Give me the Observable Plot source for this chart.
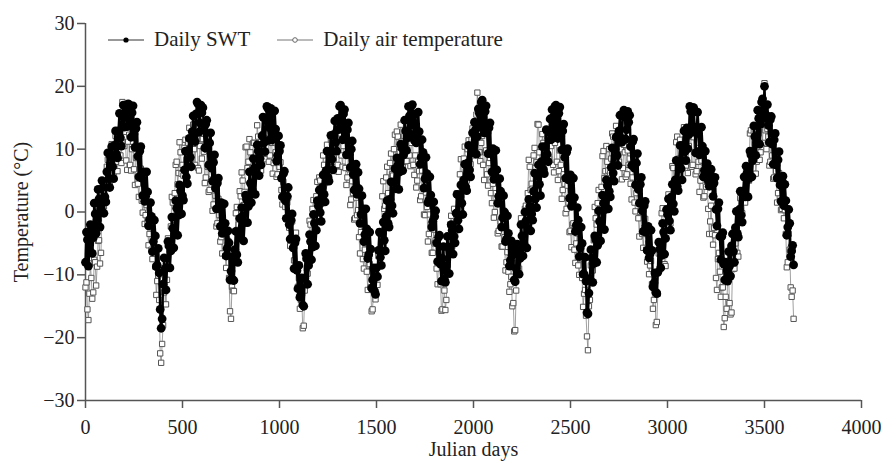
<!DOCTYPE html>
<html>
<head>
<meta charset="utf-8">
<script src="https://cdn.jsdelivr.net/npm/d3@7"></script>
<script src="https://cdn.jsdelivr.net/npm/@observablehq/plot@0.6"></script>
<style>
  html, body { margin: 0; padding: 0; background: #fff; }
  #wrap { position: relative; width: 885px; height: 466px; font-family: "Liberation Serif", "DejaVu Serif", serif; }
  #legend { position: absolute; left: 108px; top: 27px; display: flex; align-items: center; font-size: 21px; color: #222; white-space: nowrap; }
  #legend .item { display: flex; align-items: center; margin-right: 27px; }
  #legend svg { margin-right: 10px; }
</style>
</head>
<body>
<div id="wrap">
  <div id="chart"></div>
  <div id="legend">
    <div class="item"><svg width="36" height="10"><line x1="0" y1="5" x2="36" y2="5" stroke="#333" stroke-width="1"/><circle cx="18" cy="5" r="2.6" fill="#000"/></svg><span>Daily SWT</span></div>
    <div class="item"><svg width="36" height="10"><line x1="0" y1="5" x2="36" y2="5" stroke="#777" stroke-width="1"/><circle cx="18" cy="5" r="2.3" fill="#fff" stroke="#666" stroke-width="1"/></svg><span>Daily air temperature</span></div>
  </div>
</div>
<script>
// Sampling grid (Julian days): main readings every 10 days (day 0, 10, ...),
// extra readings in between (day 5, 15, ...)
const dayStart = 0, dayEnd = 3650, dayStep = 10, midOffset = 5;

// Daily SWT (°C) at day 0, 10, 20, ... (rows of 100 days)
const swt = [
  -8.0,-4.4,-6.0,-2.9,-4.1,-0.3,-1.3,2.1,0.5,3.9,
  2.4,6.4,5.3,8.8,7.2,10.6,9.2,12.9,11.8,15.2,
  13.5,16.8,17.2,14.1,15.8,12.4,13.3,8.9,9.7,5.4,
  6.4,2.5,3.2,-1.2,-0.7,-4.7,-3.8,-8.5,-9.7,-18.5,
  -11.5,-9.0,-8.9,-5.4,-6.2,-2.6,-3.5,0.6,-0.5,3.4,
  2.6,6.7,5.6,9.8,8.7,12.8,11.7,15.6,17.2,14.2,
  15.8,13.1,14.0,10.2,11.0,7.0,7.9,3.8,4.6,0.6,
  1.5,-2.6,-1.8,-5.8,-4.9,-9.4,-10.8,-6.0,-6.8,-3.2,
  -4.1,-0.6,-1.7,2.0,0.9,4.6,3.5,7.0,6.0,9.7,
  8.5,12.1,11.0,14.6,16.5,13.4,15.6,12.4,13.2,9.0,
  9.7,5.4,6.1,1.8,2.5,-2.0,-1.3,-5.7,-4.9,-9.3,
  -8.5,-13.2,-14.8,-10.6,-7.4,-8.5,-4.7,-5.6,-1.8,-2.9,
  1.0,-0.1,3.9,2.8,6.6,5.5,9.5,8.4,12.3,11.1,
  14.9,16.8,13.7,15.6,12.2,13.1,9.2,10.0,6.0,6.9,
  2.8,3.7,-0.4,0.5,-3.6,-2.7,-6.8,-5.9,-10.8,-12.6,
  -8.9,-6.1,-7.2,-3.4,-4.5,-0.7,-1.8,2.0,1.0,4.7,
  3.7,7.5,6.4,10.2,9.1,12.9,11.8,15.3,16.9,13.8,
  15.6,12.0,12.8,8.7,9.5,5.3,6.1,1.9,2.7,-1.5,
  -0.7,-4.9,-4.0,-8.3,-7.4,-10.7,-8.6,-5.6,-6.6,-2.9,
  -3.9,-0.2,-1.3,2.4,1.4,5.1,4.0,7.8,6.7,10.4,
  9.4,13.1,12.0,15.7,17.5,14.3,16.0,12.6,13.4,9.3,
  10.1,5.9,6.7,2.5,3.3,-0.9,0.0,-4.3,-3.4,-7.7,
  -6.9,-10.8,-9.0,-6.1,-7.4,-3.8,-5.0,-1.4,-2.6,0.9,
  -0.3,3.3,2.1,5.7,4.4,8.0,6.8,10.4,9.2,12.7,
  11.5,15.1,16.8,13.8,15.7,12.1,12.9,8.7,9.5,5.1,
  5.9,1.5,2.3,-2.1,-1.3,-5.7,-5.0,-9.9,-11.0,-16.2,
  -10.6,-7.3,-8.2,-4.4,-5.3,-1.5,-2.5,1.4,0.4,4.2,
  3.3,7.1,6.2,10.0,9.0,12.9,11.8,15.3,16.0,13.1,
  14.3,10.4,11.2,7.0,7.8,3.6,4.4,0.2,1.0,-3.2,
  -2.3,-6.7,-6.1,-11.3,-12.8,-9.6,-5.9,-6.9,-3.2,-4.2,
  -0.4,-1.4,2.4,1.3,5.1,4.1,7.9,6.9,10.6,9.6,
  13.4,12.3,16.0,16.6,13.5,12.5,13.3,9.8,10.5,6.6,
  7.4,5.0,6.2,4.3,4.6,0.4,0.5,-3.9,-3.9,-8.3,
  -8.0,-11.0,-8.6,-5.4,-6.3,-2.5,-3.4,0.4,-0.5,3.3,
  2.4,6.2,5.3,9.1,8.2,12.0,11.1,14.9,14.0,18.0,
  20.0,15.4,13.8,14.7,10.8,11.5,7.5,8.3,4.3,5.0,
  1.0,1.8,-2.4,-1.8,-6.2,-8.4
];

// Daily SWT (°C) at day 5, 15, 25, ...
const swtMid = [
  -3.2,-8.6,-2.0,-6.6,1.4,-3.4,3.6,-2.4,5.0,-0.2,
  1.6,9.4,3.9,10.4,5.3,12.9,8.6,15.7,10.5,17.0,
  17.0,13.6,17.1,11.9,16.9,10.3,14.3,5.6,10.4,2.6,
  1.7,6.4,-2.2,1.5,-6.3,-1.3,-8.7,-5.8,-15.5,-17.0,
  -7.3,-12.4,-4.7,-8.9,-0.8,-5.7,1.8,-3.7,4.3,-0.3,
  1.9,9.7,4.5,11.7,7.2,15.3,11.2,17.5,12.7,17.0,
  16.6,10.2,14.6,7.5,12.6,4.9,9.1,0.5,5.4,-2.3,
  -3.4,1.3,-7.0,-3.0,-10.8,-7.1,-10.9,-3.1,-8.0,-1.0,
  0.7,-4.6,2.7,-1.7,6.4,1.5,8.5,2.8,10.7,5.8,
  7.5,15.1,9.6,16.8,11.4,16.5,11.5,16.1,8.1,12.1,
  10.6,2.4,6.5,-1.0,3.9,-4.3,-0.3,-9.0,-4.3,-12.2,
  -13.6,-10.5,-15.0,-6.6,-11.5,-3.6,-7.6,-0.4,-5.4,1.8,
  3.5,-1.5,5.9,1.6,9.7,4.9,12.2,6.7,14.5,9.7,
  13.1,17.0,11.5,16.3,9.1,14.2,7.1,11.3,3.5,7.6,
  6.3,-1.8,2.6,-4.7,0.5,-7.4,-3.2,-12.1,-8.9,-13.1,
  -10.3,-3.2,-8.5,-1.6,-6.2,1.8,-2.4,4.8,-0.2,6.9,
  8.6,3.6,10.8,6.6,14.6,9.8,16.8,12.4,17.1,11.4,
  11.0,15.9,7.6,11.5,3.8,8.7,1.5,5.6,-2.4,1.6,
  0.2,-7.9,-3.7,-11.0,-5.5,-11.2,-3.9,-9.8,-2.0,-6.7,
  -4.9,2.8,-2.7,4.3,-0.4,7.6,3.4,10.6,5.6,12.6,
  14.3,9.2,16.4,13.5,17.8,12.6,16.9,9.3,14.2,6.4,
  5.2,9.8,1.4,5.3,-2.4,2.6,-4.7,-0.6,-8.6,-4.6,
  -5.9,-11.1,-5.1,-9.9,-2.0,-7.0,0.0,-5.7,2.0,-3.0,
  -1.3,6.2,0.7,7.5,2.6,10.4,6.1,13.1,8.0,14.8,
  16.3,12.6,17.0,11.7,16.7,9.9,14.0,5.4,10.1,2.2,
  0.9,5.4,-3.1,0.7,-7.1,-2.4,-9.9,-7.2,-16.0,-12.9,
  -6.0,-11.2,-3.8,-8.0,0.2,-4.6,2.7,-2.8,5.1,0.5,
  2.4,10.2,4.9,11.9,7.4,15.4,11.1,16.2,11.6,16.0,
  15.4,7.4,11.6,4.3,9.3,1.4,5.5,-3.1,1.7,-6.1,
  -7.3,-2.9,-11.9,-9.7,-13.0,-4.8,-8.9,-1.8,-6.7,0.4,
  2.1,-2.9,4.4,0.1,8.2,3.4,10.6,5.1,12.9,8.2,
  10.1,16.8,13.1,16.6,9.4,15.9,9.1,13.5,5.6,9.7,
  7.7,4.1,6.8,2.5,5.5,-2.2,1.5,-7.6,-3.3,-10.8,
  -10.8,-6.3,-10.2,-3.5,-8.0,0.1,-4.0,3.3,-1.6,5.6,
  7.3,2.4,9.7,5.6,13.7,9.0,16.2,10.8,17.5,15.7,
  14.9,17.1,11.1,15.2,7.6,12.5,5.4,9.6,1.7,5.7,
  4.4,-3.7,0.4,-7.1,-5.3
];

// Daily air temperature (°C) at day 0, 10, 20, ...
const air = [
  -12.0,-15.5,-13.0,-10.5,-12.8,-8.0,-8.7,-4.5,-6.5,4.0,
  2.5,7.2,5.0,8.6,6.2,10.4,8.0,11.5,9.0,17.5,
  10.5,8.2,11.2,7.5,10.0,6.8,8.6,4.5,5.6,1.8,
  2.9,-0.5,-1.8,-3.5,-6.0,-5.0,-8.7,-11.0,-14.0,-24.0,
  -18.0,-12.5,-10.8,-4.5,-2.3,1.5,3.0,8.0,6.2,9.5,
  7.5,10.2,8.3,11.0,9.0,12.0,10.0,11.5,7.0,10.5,
  8.5,9.6,5.5,7.2,3.5,6.0,1.2,2.6,-1.8,-0.5,
  -4.0,-3.0,-7.0,-5.5,-10.5,-17.0,-12.5,-6.0,0.8,-2.0,
  2.5,5.0,3.2,10.4,8.0,9.5,7.0,11.0,9.2,12.0,
  8.5,10.8,9.5,12.5,16.8,9.0,11.0,7.8,9.5,6.0,
  7.2,3.5,4.8,0.8,1.5,-2.5,-1.5,-5.5,-4.5,-8.5,
  -10.5,-14.0,-18.5,-12.5,-9.0,-6.5,-2.0,0.5,-1.5,2.5,
  1.0,5.0,3.5,7.5,6.0,9.8,8.0,11.0,8.5,10.2,
  7.5,11.5,9.0,10.5,7.0,5.5,6.8,2.0,3.0,-1.0,
  -0.5,-4.0,-3.2,-7.5,-6.0,-9.5,-8.5,-12.0,-15.5,-13.0,
  -10.0,-7.0,-3.5,2.5,0.5,5.5,3.0,7.8,6.0,10.0,
  8.5,12.0,9.5,11.2,8.0,10.5,12.5,9.0,11.0,7.5,
  9.0,5.0,6.5,2.5,3.8,-0.5,0.8,-3.5,-2.0,-6.5,
  -5.0,-9.0,-8.0,-11.5,-15.5,-12.5,-14.0,-6.0,-2.0,-5.5,
  0.5,-1.5,3.0,6.0,4.0,8.5,6.5,10.0,8.0,11.5,
  9.0,10.5,19.0,9.5,11.0,7.5,9.5,6.0,7.8,3.0,
  4.5,0.0,1.5,-3.0,-1.5,-5.5,-4.0,-8.0,-9.5,-11.5,
  -15.0,-19.0,-12.5,-8.0,-5.5,-2.0,-4.0,1.0,3.0,7.2,
  4.5,9.0,7.0,14.0,9.5,8.0,11.0,9.0,12.0,8.5,
  10.5,7.5,11.0,8.0,6.5,7.5,3.5,4.5,0.5,1.5,
  -3.0,-2.0,-6.0,-5.0,-8.5,-7.5,-10.5,-13.0,-16.5,-22.0,
  -14.0,-8.0,-4.5,-1.0,1.4,0.0,4.0,9.7,6.5,8.0,
  10.0,8.5,12.0,9.5,11.0,8.0,10.0,7.0,9.5,6.0,
  7.5,4.5,5.5,1.5,3.0,-1.0,0.0,-3.5,-2.5,-6.0,
  -5.0,-8.5,-11.5,-14.0,-18.0,-13.0,-6.0,-0.2,-3.5,-8.6,
  -1.5,2.0,0.5,7.0,4.5,12.0,8.5,10.5,9.0,11.5,
  8.0,10.5,12.0,7.5,9.5,6.5,8.0,5.0,6.5,2.5,
  4.0,0.5,-1.5,-3.5,-2.5,-10.5,-7.5,-9.5,-12.0,-18.3,
  -13.5,-11.0,-14.5,-16.0,-9.0,-5.0,-6.5,-1.0,0.5,3.5,
  1.5,6.0,5.0,13.0,9.0,11.0,8.0,12.5,9.5,11.0,
  20.5,10.0,12.0,8.0,9.0,5.5,6.5,3.0,4.5,0.5,
  -1.0,-3.5,-8.0,-6.0,-13.5,-17.0
];

// Daily air temperature (°C) at day 5, 15, 25, ...
const airMid = [
  -11.2,-17.2,-8.2,-13.8,-7.6,-11.7,-4.6,-8.2,2.0,0.9,
  1.8,8.3,4.2,10.8,6.3,12.1,6.5,12.7,7.8,13.5,
  11.9,6.7,12.3,6.6,11.2,4.3,8.6,2.4,6.9,-0.1,
  -1.9,1.1,-5.3,-1.4,-7.5,-4.0,-13.2,-10.1,-22.5,-21.0,
  -12.8,-14.7,-4.2,-5.6,2.4,-1.2,7.5,4.4,11.1,6.1,
  5.8,11.5,7.1,13.4,8.5,13.9,7.5,11.6,6.6,12.5,
  11.6,4.6,9.9,3.2,7.6,0.2,3.9,-2.3,2.1,-4.7,
  -6.6,-2.8,-8.9,-4.6,-15.8,-11.9,-12.6,-0.2,-2.8,3.3,
  6.3,1.1,10.3,7.0,11.6,4.9,11.0,7.4,13.8,7.9,
  6.6,12.4,8.4,14.4,8.0,12.9,6.1,11.1,5.6,9.6,
  7.9,1.2,6.3,-1.1,2.3,-5.4,-1.5,-7.7,-3.3,-11.9,
  -15.4,-14.1,-18.1,-7.4,-9.8,-1.4,-4.1,1.9,-1.7,4.8,
  5.5,1.3,9.0,4.6,10.7,5.5,11.5,7.1,12.6,6.5,
  6.4,12.5,7.2,12.2,4.3,9.1,1.1,4.9,-1.2,2.3,
  0.3,-6.6,-1.9,-9.0,-5.0,-12.4,-8.3,-15.8,-11.1,-13.9,
  -11.6,-3.1,-3.1,4.9,1.0,7.2,2.1,9.3,5.8,12.3,
  12.8,7.8,13.9,7.4,12.1,8.1,12.8,7.3,12.5,5.9,
  3.9,8.0,1.9,6.6,-0.4,3.1,-4.7,-0.4,-6.5,-2.8,
  -4.5,-11.5,-6.3,-15.7,-11.2,-15.6,-8.0,-6.7,-0.6,-4.9,
  -3.6,3.0,1.9,8.4,4.3,10.4,5.0,11.4,7.6,13.3,
  12.3,15.5,12.5,8.1,12.1,5.1,9.8,4.2,8.6,1.4,
  -0.9,3.0,-3.4,1.2,-5.5,-1.9,-9.3,-6.4,-12.7,-10.3,
  -14.5,-18.8,-6.8,-9.0,-1.0,-6.4,0.5,-0.7,8.3,3.5,
  3.7,10.2,7.9,13.9,6.8,12.4,6.7,12.9,8.1,12.5,
  11.5,6.3,13.0,5.1,9.8,2.1,6.0,-0.2,4.2,-3.2,
  -5.6,-1.8,-8.1,-3.4,-10.0,-6.1,-15.1,-12.4,-19.8,-15.0,
  -8.5,-9.3,0.8,-2.0,3.5,-1.4,8.9,5.4,10.5,6.6,
  6.2,12.5,8.2,13.7,7.5,11.9,5.2,10.7,5.6,9.8,
  8.5,2.0,7.0,0.1,3.8,-3.9,0.3,-5.7,-1.1,-7.9,
  -9.9,-7.8,-15.4,-12.6,-17.5,-6.6,-6.4,0.6,-8.3,-2.1,
  2.8,-1.8,7.3,3.6,11.1,6.9,11.5,7.1,13.5,7.4,
  6.2,13.5,7.2,11.9,6.0,10.2,3.2,8.2,2.3,6.3,
  4.8,-3.5,1.0,-5.2,-3.7,-12.4,-6.5,-13.5,-12.0,-16.9,
  -15.4,-10.6,-16.3,-9.1,-9.0,-2.9,-7.1,2.2,-0.2,5.5,
  6.3,2.5,12.5,8.8,12.8,6.1,12.3,8.3,13.5,15.5,
  13.0,13.2,7.4,11.9,5.3,8.9,1.5,6.2,0.3,2.8,
  0.3,-8.8,-3.5,-12.0,-12.5
];

// Axis ticks
const xTicks = [0, 500, 1000, 1500, 2000, 2500, 3000, 3500, 4000];
const yTicks = [-30, -20, -10, 0, 10, 20, 30];

// Build the table: interleave main and in-between readings in day order
const data = [];
d3.range(dayStart, dayEnd + 1, dayStep).forEach((d, i) => {
  data.push({day: d, swt: swt[i], air: air[i]});
  if (i < swtMid.length) data.push({day: d + midOffset, swt: swtMid[i], air: airMid[i]});
});

const axisColor = "#555";
const fmt = d3.format("d");

const chart = Plot.plot({
  width: 885,
  height: 466,
  marginLeft: 85,
  marginRight: 24,
  marginTop: 23,
  marginBottom: 66,
  style: {fontFamily: "'Liberation Serif', serif", fontSize: "20px", color: "#222", background: "#fff", overflow: "visible"},
  x: {domain: [0, 4000]},
  y: {domain: [-30, 30]},
  marks: [
    Plot.axisX({ticks: xTicks, tickFormat: fmt, tickSize: 8, tickPadding: 11, stroke: axisColor, strokeWidth: 1.5,
      label: "Julian days", labelAnchor: "center", labelArrow: "none", labelOffset: 55, fill: "#222"}),
    Plot.axisY({ticks: yTicks, tickFormat: fmt, tickSize: 8, tickPadding: 3, stroke: axisColor, strokeWidth: 1.5,
      label: "Temperature (°C)", labelAnchor: "center", labelArrow: "none", labelOffset: 72, fill: "#222"}),
    Plot.ruleX([0], {stroke: axisColor, strokeWidth: 1.5}),
    Plot.ruleY([-30], {stroke: axisColor, strokeWidth: 1.5}),
    Plot.line(data, {x: "day", y: "air", stroke: "#777", strokeWidth: 0.7}),
    Plot.dot(data, {x: "day", y: "air", symbol: "square", r: 3, stroke: "#555", fill: "#fff", strokeWidth: 1}),
    Plot.line(data, {x: "day", y: "swt", stroke: "#000", strokeWidth: 2.4}),
    Plot.dot(data, {x: "day", y: "swt", r: 4.4, fill: "#000", stroke: "none"})
  ]
});
document.getElementById("chart").appendChild(chart);
</script>
</body>
</html>
